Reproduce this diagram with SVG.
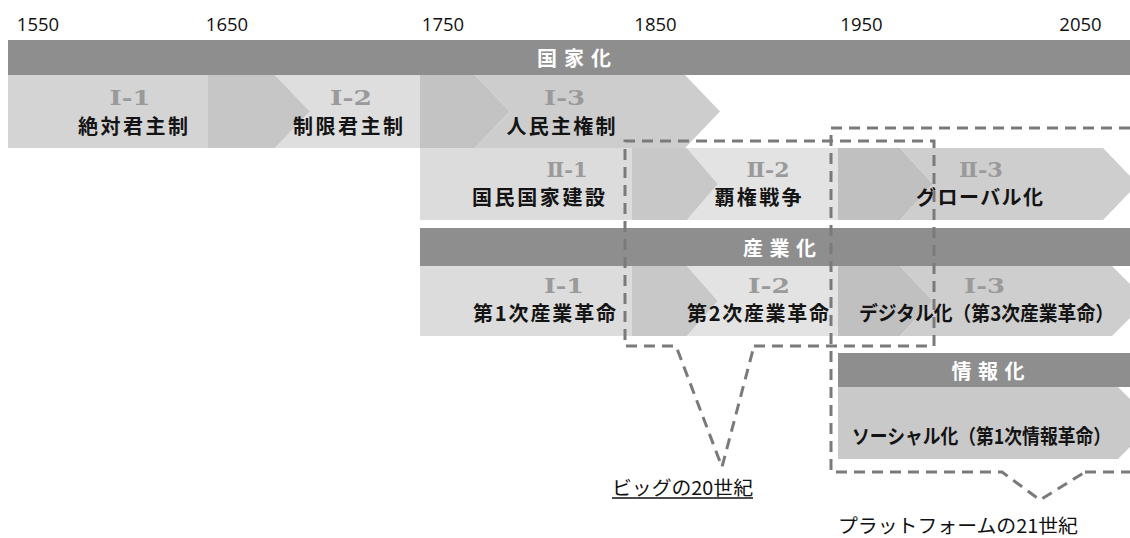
<svg xmlns="http://www.w3.org/2000/svg" width="1130" height="538" viewBox="0 0 1130 538">
<style>
.yr{font-family:"Open Sans","Liberation Sans",sans-serif;font-size:18.5px;fill:#111;text-anchor:middle}
.band{fill:#8e8e8e}
.bt{font-family:"Noto Sans CJK JP",sans-serif;font-size:20px;font-weight:bold;fill:#fff;text-anchor:middle}
.num{font-family:"DejaVu Serif","Noto Sans CJK JP",serif;font-size:20px;font-weight:bold;fill:#9a9a9a;text-anchor:middle}
.lb{font-family:"Noto Sans CJK JP",sans-serif;font-size:20px;font-weight:bold;fill:#141414;text-anchor:middle}
.cap{font-family:"Noto Sans CJK JP",sans-serif;font-size:19px;fill:#111;text-anchor:middle}
.dash{fill:none;stroke:#7a7a7a;stroke-width:3;stroke-dasharray:11 7}
</style>
<rect width="1130" height="538" fill="#fff"/>
<g id="years">
<text class="yr" x="38" y="31">1550</text>
<text class="yr" x="227" y="31">1650</text>
<text class="yr" x="443" y="31">1750</text>
<text class="yr" x="655.5" y="31">1850</text>
<text class="yr" x="861.5" y="31">1950</text>
<text class="yr" x="1080.5" y="31">2050</text>
</g>
<g id="band-kokka">
<rect class="band" x="8" y="40" width="1122" height="35"/>
<text class="bt" x="574" y="66" textLength="74" lengthAdjust="spacing">国家化</text>
</g>
<g id="node-I1">
<rect x="8" y="75" width="200" height="73" fill="#d4d4d4"/>
<polygon points="208,75 275,75 310,111.5 275,148 208,148" fill="#c6c6c6"/>
<text class="num" x="130" y="105" textLength="41" lengthAdjust="spacingAndGlyphs">Ⅰ-1</text>
<text class="lb" x="133" y="134" textLength="110" lengthAdjust="spacing">絶対君主制</text>
</g>
<g id="node-I2">
<polygon points="275,75 420,75 420,148 275,148 310,111.5" fill="#dedede"/>
<text class="num" x="351" y="105" textLength="42" lengthAdjust="spacingAndGlyphs">Ⅰ-2</text>
<text class="lb" x="348" y="134" textLength="110" lengthAdjust="spacing">制限君主制</text>
</g>
<g id="node-I3">
<polygon points="420,75 475,75 510,111.5 475,148 420,148" fill="#c3c3c3"/>
<polygon points="475,75 685,75 720,111.5 685,148 475,148 510,111.5" fill="#cdcdcd"/>
<text class="num" x="564.5" y="105" textLength="41" lengthAdjust="spacingAndGlyphs">Ⅰ-3</text>
<text class="lb" x="561" y="134" textLength="109" lengthAdjust="spacing">人民主権制</text>
</g>
<g id="node-II1">
<rect x="420" y="148" width="212" height="72" fill="#dcdcdc"/>
<polygon points="632,148 687,148 718,184 687,220 632,220" fill="#c8c8c8"/>
<text class="num" x="567" y="177" textLength="41" lengthAdjust="spacingAndGlyphs">Ⅱ-1</text>
<text class="lb" x="538.5" y="205" textLength="133" lengthAdjust="spacing">国民国家建設</text>
</g>
<g id="node-II2">
<polygon points="687,148 838,148 838,220 687,220 718,184" fill="#e3e3e3"/>
<text class="num" x="768" y="177" textLength="43" lengthAdjust="spacingAndGlyphs">Ⅱ-2</text>
<text class="lb" x="758" y="205" textLength="87" lengthAdjust="spacing">覇権戦争</text>
</g>
<g id="node-II3">
<polygon points="838,148 900,148 933,184 900,220 838,220" fill="#c0c0c0"/>
<polygon points="900,148 1103,148 1130,176 1130,192 1103,220 900,220 933,184" fill="#cecece"/>
<text class="num" x="981" y="177" textLength="44" lengthAdjust="spacingAndGlyphs">Ⅱ-3</text>
<text class="lb" x="979.5" y="205" textLength="127" lengthAdjust="spacing">グローバル化</text>
</g>
<g id="band-sangyo">
<rect class="band" x="420" y="228" width="710" height="38"/>
<text class="bt" x="779.5" y="256" textLength="73" lengthAdjust="spacing">産業化</text>
</g>
<g id="node-ind1">
<rect x="420" y="266" width="212" height="70" fill="#dcdcdc"/>
<polygon points="632,266 687,266 718,301 687,336 632,336" fill="#c8c8c8"/>
<text class="num" x="564" y="293" textLength="40" lengthAdjust="spacingAndGlyphs">Ⅰ-1</text>
<text class="lb" x="544.5" y="321" textLength="143" lengthAdjust="spacing">第1次産業革命</text>
</g>
<g id="node-ind2">
<polygon points="687,266 838,266 838,336 687,336 718,301" fill="#e3e3e3"/>
<text class="num" x="769" y="293" textLength="42" lengthAdjust="spacingAndGlyphs">Ⅰ-2</text>
<text class="lb" x="758" y="321" textLength="142" lengthAdjust="spacing">第2次産業革命</text>
</g>
<g id="node-ind3">
<polygon points="838,266 900,266 933,301 900,336 838,336" fill="#c0c0c0"/>
<polygon points="900,266 1112,266 1130,284 1130,318 1112,336 900,336 933,301" fill="#cecece"/>
<text class="num" x="984.5" y="293" textLength="41" lengthAdjust="spacingAndGlyphs">Ⅰ-3</text>
<text class="lb" x="986.5" y="321" textLength="255" lengthAdjust="spacingAndGlyphs">デジタル化（第3次産業革命）</text>
</g>
<g id="band-joho">
<rect class="band" x="838" y="353" width="292" height="34"/>
<text class="bt" x="988" y="379" textLength="73" lengthAdjust="spacing">情報化</text>
</g>
<g id="node-social">
<polygon points="838,387 1118,387 1130,399 1130,447 1118,459 838,459" fill="#c9c9c9"/>
<text class="lb" x="981.5" y="444" font-size="19" textLength="259" lengthAdjust="spacingAndGlyphs">ソーシャル化（第1次情報革命）</text>
</g>
<g id="connectors">
<path class="dash" d="M754,346 L934,346 L934,141 L625,141 L625,346 L676,346 L722,467 L754,346"/>
<path class="dash" d="M1085,472 L1130,472 M1130,128 L831,128 L831,472 L1002,472 L1040,500 L1085,472"/>
</g>
<g id="label-20c">
<text class="cap" x="682.5" y="495" textLength="141" lengthAdjust="spacingAndGlyphs">ビッグの20世紀</text>
<line x1="612" y1="498" x2="753" y2="498" stroke="#111" stroke-width="1.3"/>
</g>
<g id="label-21c">
<text class="cap" x="958" y="533" textLength="240" lengthAdjust="spacingAndGlyphs">プラットフォームの21世紀</text>
</g>
</svg>
